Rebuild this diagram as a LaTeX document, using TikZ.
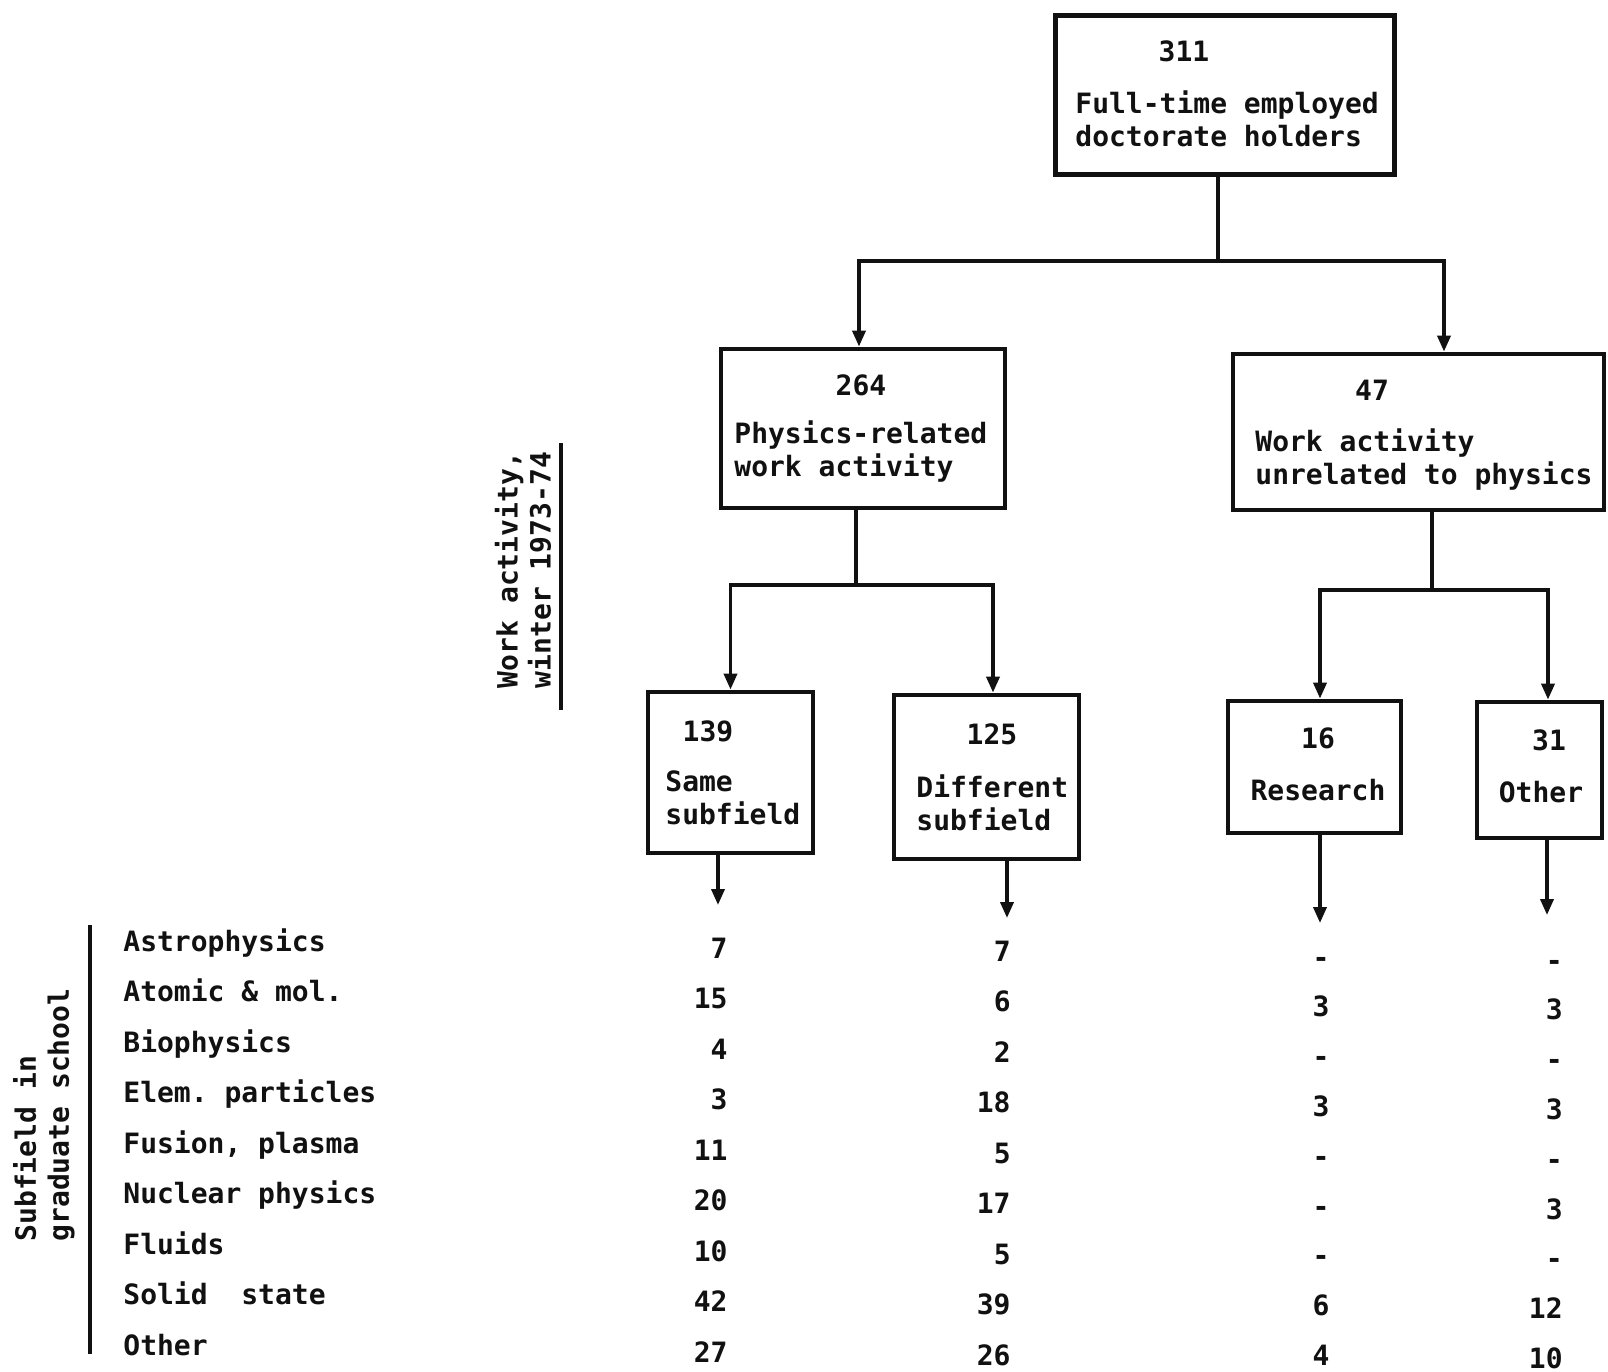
\documentclass[tikz,border=0pt]{standalone}
\usepackage{fontspec}
\setmonofont{DejaVu Sans Mono}
\usepackage{tikz}
\usetikzlibrary{arrows.meta,positioning,calc}
\definecolor{ink}{HTML}{111111}

\begin{document}
\begin{tikzpicture}[x=0.5pt,y=-0.5pt,font=\ttfamily\bfseries\fontsize{14}{16.5}\selectfont,
  box/.style={draw=ink,line width=2.4pt,inner sep=0pt},
  txt/.style={ink,align=left,inner sep=0pt},
  num/.style={ink,inner sep=0pt,text height=10pt,text depth=0pt},
  link/.style={draw=ink,line width=1.8pt},
  arr/.style={link,-{Triangle[length=8pt,width=6.5pt]}}]
\useasboundingbox (0,0) rectangle (1608,1372);

\node[box,minimum width=169.5pt,minimum height=79.5pt] (total) at (1225,95) {};
\node[num] (totaln) at (1184,51) {311};
\node[txt,anchor=west] (totalt) at (1075,119) {Full-time employed\\doctorate holders};

\node[box,minimum width=142pt,minimum height=79.5pt] (phys) at (863,428.5) {};
\node[num] (physn) at (861,385) {264};
\node[txt,anchor=west] (physt) at (734,452) {Physics-related\\work activity};

\node[box,minimum width=185.5pt,minimum height=78pt] (unrel) at (1418.5,432) {};
\node[num] (unreln) at (1372,390) {47};
\node[txt,anchor=west] (unrelt) at (1255,459.5) {Work activity\\unrelated to physics};

\node[box,minimum width=82.5pt,minimum height=80.5pt] (same) at (730.5,772.5) {};
\node[num] (samen) at (708,731) {139};
\node[txt,anchor=west] (samet) at (665,798) {Same\\subfield};

\node[box,minimum width=92.5pt,minimum height=82pt] (diff) at (986.5,777) {};
\node[num] (diffn) at (992,734) {125};
\node[txt,anchor=west] (difft) at (916,803) {Different\\subfield};

\node[box,minimum width=86.5pt,minimum height=66pt] (res) at (1314.5,767) {};
\node[num] (resn) at (1318,738) {16};
\node[num] (rest) at (1318,790) {Research};

\node[box,minimum width=62.5pt,minimum height=68pt] (oth) at (1539.5,770) {};
\node[num] (othn) at (1549,740) {31};
\node[num] (otht) at (1541,792) {Other};

\coordinate (fork1) at (1218,261);
\draw[link] (total.south -| fork1) -- (fork1);
\draw[arr] (fork1) -| (phys.north -| 859,0);
\draw[arr] (fork1) -| (unrel.north -| 1444,0);

\coordinate (fork2) at (856,585);
\draw[link] (phys.south -| fork2) -- (fork2);
\draw[arr] (fork2) -| (same.north);
\draw[arr] (fork2) -| (diff.north -| 993,0);

\coordinate (fork3) at (1432,590);
\draw[link] (unrel.south -| fork3) -- (fork3);
\draw[arr] (fork3) -| (res.north -| 1320,0);
\draw[arr] (fork3) -| (oth.north -| 1548,0);

\coordinate (col1) at (718,905);
\coordinate (col2) at (1007,918);
\coordinate (col3) at (1320,923);
\coordinate (col4) at (1547,915);
\draw[arr] (same.south -| col1) -- (col1);
\draw[arr] (diff.south -| col2) -- (col2);
\draw[arr] (res.south -| col3) -- (col3);
\draw[arr] (oth.south -| col4) -- (col4);

\node[txt,rotate=90] (worklab) at (523,570) {Work activity,\\winter 1973-74};
\draw[link] (561,443) -- (561,710);
\node[txt,rotate=90] (sublab) at (44,1115) {Subfield in\\graduate school};
\draw[link] (90,925) -- (90,1354);

\foreach \name/\a/\b/\c/\d [count=\i from 0] in {
  Astrophysics/7/7/-/-,
  Atomic \& mol./15/6/3/3,
  Biophysics/4/2/-/-,
  Elem. particles/3/18/3/3,
  {Fusion, plasma}/11/5/-/-,
  Nuclear physics/20/17/-/3,
  Fluids/10/5/-/-,
  Solid\ \ state/42/39/6/12,
  Other/27/26/4/10} {
  \node[num,anchor=west] (sf\i) at (123,{941+50.5*\i}) {\name};
  \node[num,anchor=east] (sa\i) at (728,{948+50.5*\i}) {\a};
  \node[num,anchor=east] (sb\i) at (1011,{951+50.5*\i}) {\b};
  \node[num] (sc\i) at (1321,{957+49.8*\i}) {\c};
  \node[num,anchor=east] (sd\i) at (1563,{960+49.8*\i}) {\d};
}
\end{tikzpicture}
\end{document}
